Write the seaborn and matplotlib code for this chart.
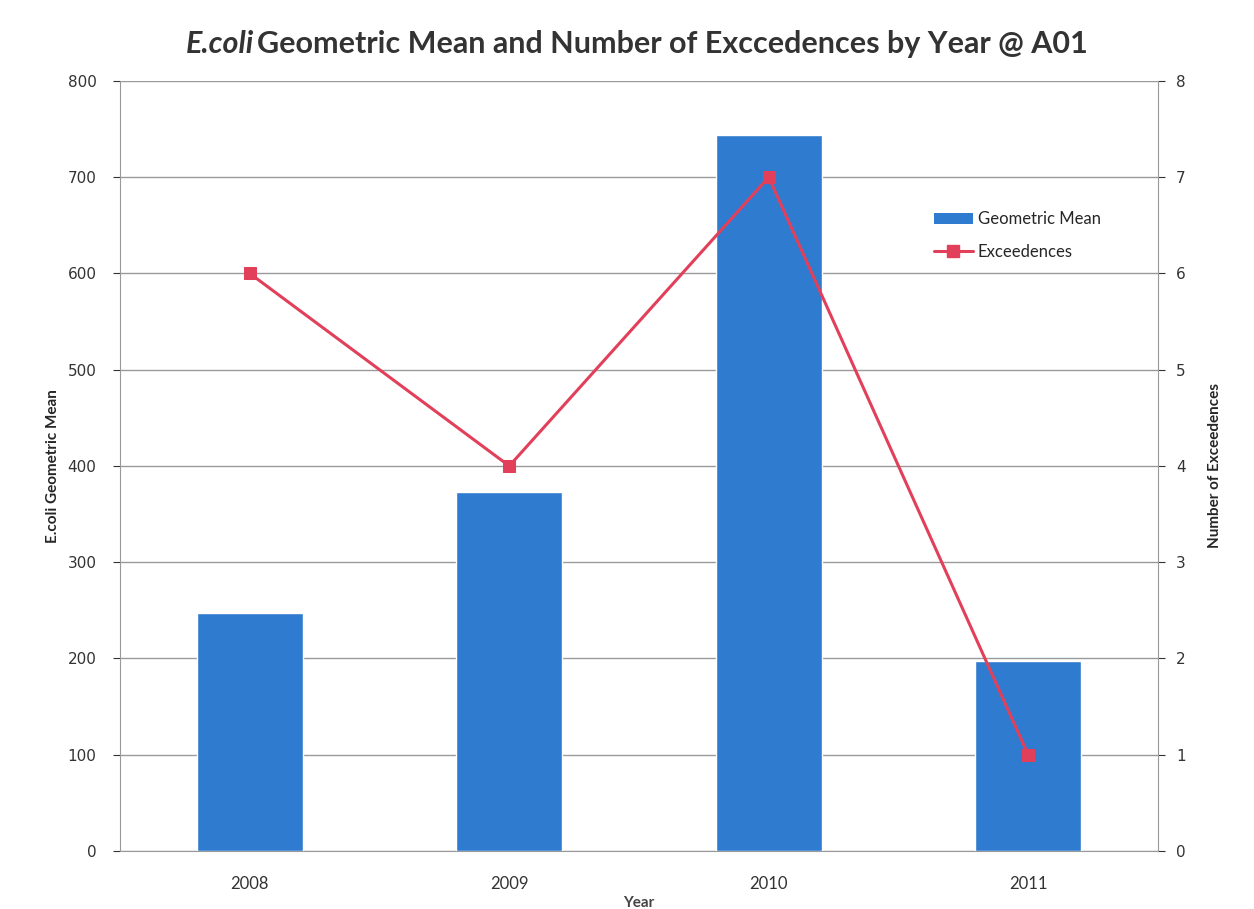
import numpy as np
import matplotlib
matplotlib.use("Agg")
import matplotlib.pyplot as plt
from matplotlib.lines import Line2D
from matplotlib.patches import Patch
import seaborn as sns

years = ["2008", "2009", "2010", "2011"]
geo_mean = [247, 373, 744, 197]
exceedences = [6, 4, 7, 1]

bar_color = "#2F7BCF"
line_color = "#E2405A"

sns.set_style("white")
plt.rcParams["font.family"] = ["DejaVu Sans"]

fig = plt.figure(figsize=(12.54, 9.09), dpi=100)
ax = fig.add_axes([0.0957, 0.0638, 0.8277, 0.8472])

sns.barplot(x=years, y=geo_mean, color=bar_color, width=0.41, saturation=1,
            ax=ax, zorder=3)
ax.set_xlim(-0.5, 3.5)
ax.set_ylim(0, 800)
ax.set_yticks(np.arange(0, 801, 100))
ax.yaxis.grid(True, color="#9a9a9a", linewidth=1.0, zorder=0)
ax.set_axisbelow(True)
ax.tick_params(axis="y", labelsize=11, colors="#333333", length=5,
               direction="out", left=True, width=0.8, pad=12,
               labelfontfamily="DejaVu Sans")
ax.tick_params(axis="x", length=0, pad=18, labelsize=12,
               labelcolor="#333333", labelfontfamily="Lato")
ax.spines["top"].set_visible(False)
ax.spines["left"].set_color("#999999")
ax.spines["bottom"].set_color("#999999")
ax.spines["right"].set_visible(False)
ax.set_ylabel("E.coli Geometric Mean", fontfamily="Lato", fontweight="bold",
              fontsize=11)
ax.yaxis.set_label_coords(-0.058, 0.5)
ax.set_xlabel("Year", fontfamily="Lato", fontweight="bold", fontsize=11,
              color="#444444")
ax.xaxis.set_label_coords(0.5, -0.058)

ax2 = ax.twinx()
sns.lineplot(x=np.arange(len(years)), y=exceedences, color=line_color,
             linewidth=2.2, marker="s", markersize=9, markeredgecolor=line_color,
             ax=ax2, zorder=5)
ax2.set_ylim(0, 8)
ax2.set_yticks(np.arange(0, 9, 1))
ax2.tick_params(axis="y", labelsize=11, colors="#333333", length=5,
                direction="out", right=True, width=0.8, pad=8,
                labelfontfamily="DejaVu Sans")
for side in ["top", "left", "bottom"]:
    ax2.spines[side].set_visible(False)
ax2.spines["right"].set_color("#999999")
ax2.set_ylabel("Number of Exceedences", fontfamily="Lato", fontweight="bold",
               fontsize=11)
ax2.yaxis.set_label_coords(1.048, 0.5)

handles = [Patch(facecolor=bar_color, edgecolor="none"),
           Line2D([0], [0], color=line_color, linewidth=2.2, marker="s",
                  markersize=9)]
leg = ax2.legend(handles, ["Geometric Mean", "Exceedences"], loc="upper left",
                 bbox_to_anchor=(0.77, 0.85), frameon=False,
                 prop={"family": "Lato", "size": 12}, handlelength=2.3,
                 labelspacing=1.0, handletextpad=0.3)

fig.text(0.148, 0.952, "E.coli", fontfamily="Lato", fontweight="bold",
         fontstyle="italic", fontsize=22, color="#333333", va="center", ha="left")
fig.text(0.205, 0.952, "Geometric Mean and Number of Exccedences by Year @ A01",
         fontfamily="Lato", fontweight="bold", fontsize=22, color="#333333",
         va="center", ha="left")

fig.savefig("out.png", dpi=100)
